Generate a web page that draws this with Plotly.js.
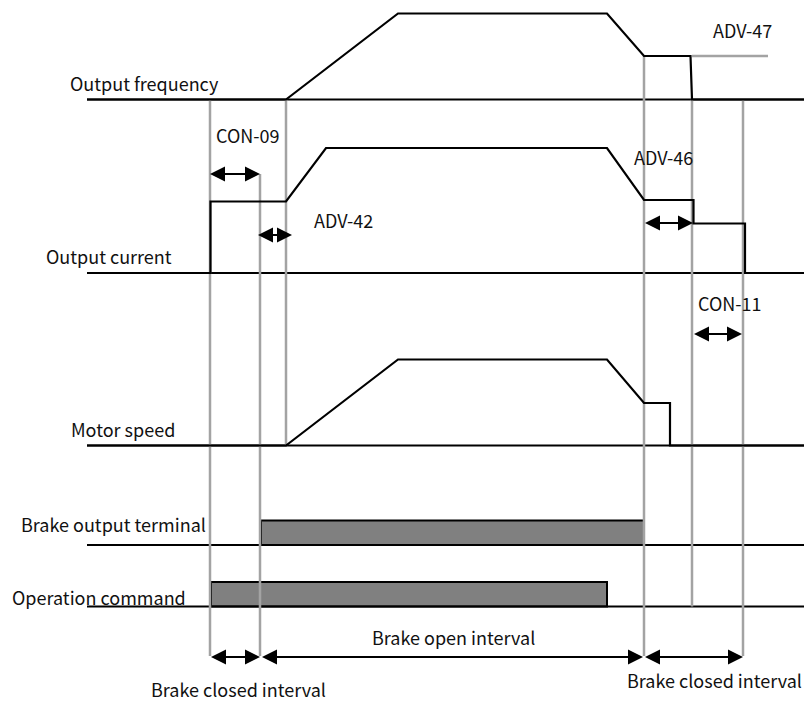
<!DOCTYPE html>
<html><head><meta charset="utf-8">
<script src="https://cdn.plot.ly/plotly-3.0.1.min.js"></script>
<style>html,body{margin:0;padding:0;background:#fff}</style>
</head><body><div id="chart" style="width:804px;height:702px"></div>
<script>
// ---- data (time runs left to right, levels are heights above each row's baseline) ----
const rowNames = ['Output frequency', 'Output current', 'Motor speed', 'Brake output terminal', 'Operation command'];
const rowBase = [99.5, 273, 445.5, 545, 606.5];
const timeStart = 87, timeEnd = 804;

const freqT = [87, 286, 398, 607, 644, 690.5, 692, 804];
const freqV = [0, 0, 86, 86, 43.5, 43.5, 0, 0];
const curT = [87, 210.5, 210.5, 286, 326, 607, 644, 693.5, 693.5, 745, 745, 804];
const curV = [0, 0, 71.5, 71.5, 125, 125, 73, 73, 49.5, 49.5, 0, 0];
const spdT = [87, 286, 398, 607, 644, 670, 670, 804];
const spdV = [0, 0, 86, 86, 42.5, 42.5, 0, 0];
const brakeOn = [261, 644], brakeLevel = 24.5;
const runOn = [211, 607], runLevel = 24.5;

// timing instants (gray guides)
const guideT = [210, 260, 286, 644, 692, 743];
const guideFrom = [99.5, 174, 99.5, 56, 99.5, 99.5];
const guideTo = [656, 656, 445.5, 656, 606.5, 656];
const adv47T = [692, 768], adv47Level = 43.5;

// intervals (double arrows)
const intStart = [210, 258, 645, 694, 211, 262, 645];
const intEnd = [260, 292, 693, 742, 260, 643, 743];
const intLevel = [174, 235, 223, 334, 657, 657, 657];

const paramNames = ['CON-09', 'ADV-42', 'ADV-46', 'ADV-47', 'CON-11'];
const intervalNames = ['Brake open interval', 'Brake closed interval', 'Brake closed interval'];

// ---- build ----
const BLACK = '#000000', GRAY = '#a3a3a3';
const traces = [];
function sig(T, V, base) { return { x: T, y: V.map(v => base - v), mode: 'lines', line: { color: BLACK, width: 2.2 }, hoverinfo: 'skip' }; }

// filled bars
function bar(on, lvl, base) {
  return { x: [on[0], on[0], on[1], on[1], on[0]], y: [base, base - lvl, base - lvl, base, base], mode: 'lines', fill: 'toself', fillcolor: '#808080', line: { color: BLACK, width: 2 }, hoverinfo: 'skip' };
}
traces.push(bar(brakeOn, brakeLevel, rowBase[3]));
traces.push(bar(runOn, runLevel, rowBase[4]));

// baselines
rowBase.forEach(b => traces.push({ x: [timeStart, timeEnd], y: [b, b], mode: 'lines', line: { color: BLACK, width: 2.2 }, hoverinfo: 'skip' }));

// guides
const gx = [], gy = [];
guideT.forEach((t, i) => { gx.push(t, t, null); gy.push(guideFrom[i], guideTo[i], null); });
gx.push(adv47T[0], adv47T[1]); gy.push(rowBase[0] - adv47Level, rowBase[0] - adv47Level);
traces.push({ x: gx, y: gy, mode: 'lines', line: { color: GRAY, width: 2.5 }, hoverinfo: 'skip' });

traces.push(sig(freqT, freqV, rowBase[0]));
traces.push(sig(curT, curV, rowBase[1]));
traces.push(sig(spdT, spdV, rowBase[2]));

// arrow shafts
const ax_ = [], ay_ = [];
intStart.forEach((s, i) => { ax_.push(s + 6, intEnd[i] - 6, null); ay_.push(intLevel[i], intLevel[i], null); });
traces.push({ x: ax_, y: ay_, mode: 'lines', line: { color: BLACK, width: 2 }, hoverinfo: 'skip' });

const annotations = [];
const FONT = { family: '"Noto Sans CJK KR", "Noto Sans", sans-serif', size: 18, color: '#111111' };
function txt(text, x, y, xanchor) { annotations.push({ text: text, x: x, y: y, xref: 'x', yref: 'y', xanchor: xanchor || 'left', yanchor: 'middle', showarrow: false, font: FONT, borderpad: 0 }); }

const rowLabelPos = [[69, 83], [45, 256], [70, 429], [20, 524], [11, 597]];
rowNames.forEach((n, i) => txt(n, rowLabelPos[i][0], rowLabelPos[i][1]));
const paramPos = [[215, 135], [313, 220], [633, 157], [712, 30], [697, 303]];
paramNames.forEach((n, i) => txt(n, paramPos[i][0], paramPos[i][1]));
const intervalPos = [[453, 637], [238, 689], [714, 680]];
intervalNames.forEach((n, i) => txt(n, intervalPos[i][0], intervalPos[i][1], 'center'));

// arrow heads
intStart.forEach((s, i) => {
  const mid = (s + intEnd[i]) / 2, y = intLevel[i];
  [s, intEnd[i]].forEach(end => annotations.push({
    text: '', x: end, y: y, ax: mid, ay: y, xref: 'x', yref: 'y', axref: 'x', ayref: 'y',
    showarrow: true, arrowhead: 2, arrowsize: 1.5, arrowwidth: 2, arrowcolor: BLACK, standoff: 0
  }));
});

const layout = {
  width: 804, height: 702, margin: { l: 0, r: 0, t: 0, b: 0 },
  paper_bgcolor: '#ffffff', plot_bgcolor: '#ffffff', showlegend: false,
  xaxis: { range: [0, 804], visible: false, fixedrange: true },
  yaxis: { range: [702, 0], visible: false, fixedrange: true },
  annotations: annotations
};
Plotly.newPlot('chart', traces, layout, { staticPlot: true, displayModeBar: false });
</script></body></html>
